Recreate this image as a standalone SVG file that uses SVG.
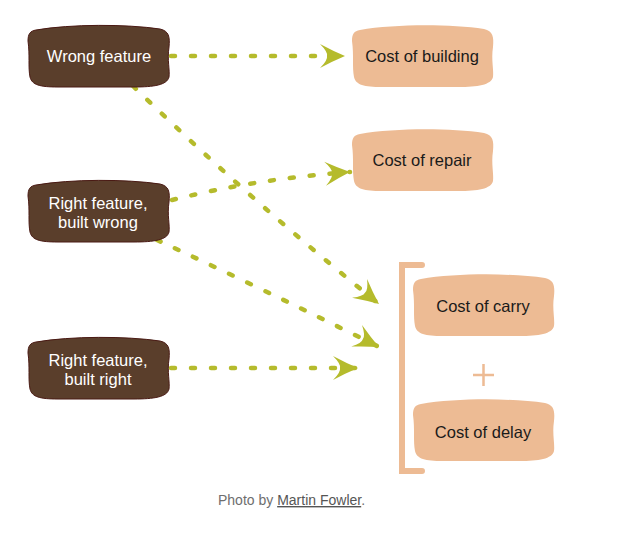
<svg xmlns="http://www.w3.org/2000/svg" width="637" height="541" viewBox="0 0 637 541">
  <style>
    .brown { fill: #5a3e2b; stroke: #4a1a14; stroke-width: 1; }
    .peach { fill: #edbb94; }
    .wt { font-family: "Liberation Sans", Arial, sans-serif; font-size: 16.5px; fill: #ffffff; text-anchor: middle; }
    .bt { font-family: "Liberation Sans", Arial, sans-serif; font-size: 16.5px; fill: #1a1a1a; text-anchor: middle; }
    .conn { fill: none; stroke: #b5bb2c; stroke-width: 4.5; stroke-linecap: round; stroke-dasharray: 4 16; }
    .cap { font-family: "Liberation Sans", Arial, sans-serif; font-size: 14px; fill: #6e6e6e; }
  </style>
  <defs>
    <path id="blob" d="M 10,5 C 45,-1 100,-1 134,4 C 143,6 144,12 143,22 C 141,35 144,45 143,52 C 141,60 128,62 108,62 L 32,62 C 14,62 6,60 4,52 C 2,42 4,30 2,16 C 2,9 4,6 10,5 Z"/>
    <marker id="arr" markerUnits="userSpaceOnUse" markerWidth="40" markerHeight="40" refX="0" refY="0" viewBox="-30 -20 40 40" orient="auto">
      <path d="M 0,0 Q -12,-5 -25,-12 Q -17,-4 -18,0 Q -17,4 -25,12 Q -12,5 0,0 Z" fill="#b5bb2c"/>
    </marker>
  </defs>

  <g id="connectors">
    <path class="conn" d="M 171,56 L 345,56" marker-end="url(#arr)"/>
    <path class="conn" d="M 133,86 Q 250,200 379,304" marker-end="url(#arr)"/>
    <path class="conn" d="M 172,200 Q 255,179 350,172" marker-end="url(#arr)"/>
    <path class="conn" d="M 157,240 Q 265,290 379,347" marker-end="url(#arr)"/>
    <path class="conn" d="M 171,368 L 358,368" marker-end="url(#arr)"/>
  </g>

  <g id="wrong-feature">
    <use href="#blob" class="brown" transform="translate(26,25)"/>
    <text class="wt" x="99" y="62">Wrong feature</text>
  </g>
  <g id="right-built-wrong">
    <use href="#blob" class="brown" transform="translate(26,180)"/>
    <text class="wt" x="98" y="209">Right feature,</text>
    <text class="wt" x="98" y="228">built wrong</text>
  </g>
  <g id="right-built-right">
    <use href="#blob" class="brown" transform="translate(26,337)"/>
    <text class="wt" x="98" y="366">Right feature,</text>
    <text class="wt" x="98" y="385">built right</text>
  </g>

  <g id="cost-building">
    <use href="#blob" class="peach" transform="translate(350,25)"/>
    <text class="bt" x="422" y="62">Cost of building</text>
  </g>
  <g id="cost-repair">
    <use href="#blob" class="peach" transform="translate(350,129)"/>
    <text class="bt" x="422" y="166">Cost of repair</text>
  </g>

  <g id="bracket">
    <path d="M 422,265 L 402,265 L 402,471 L 422,471" fill="none" stroke="#edbb94" stroke-width="6" stroke-linecap="round"/>
  </g>
  <g id="cost-carry">
    <use href="#blob" class="peach" transform="translate(411,274)"/>
    <text class="bt" x="483" y="312">Cost of carry</text>
  </g>
  <g id="plus">
    <path d="M 473,375 L 494,375 M 483.5,364 L 483.5,386" stroke="#edbb94" stroke-width="2.5" fill="none"/>
  </g>
  <g id="cost-delay">
    <use href="#blob" class="peach" transform="translate(411,399)"/>
    <text class="bt" x="483" y="438">Cost of delay</text>
  </g>

  <text class="cap" x="218" y="505">Photo by <tspan fill="#555555" text-decoration="underline">Martin Fowler</tspan>.</text>
</svg>
